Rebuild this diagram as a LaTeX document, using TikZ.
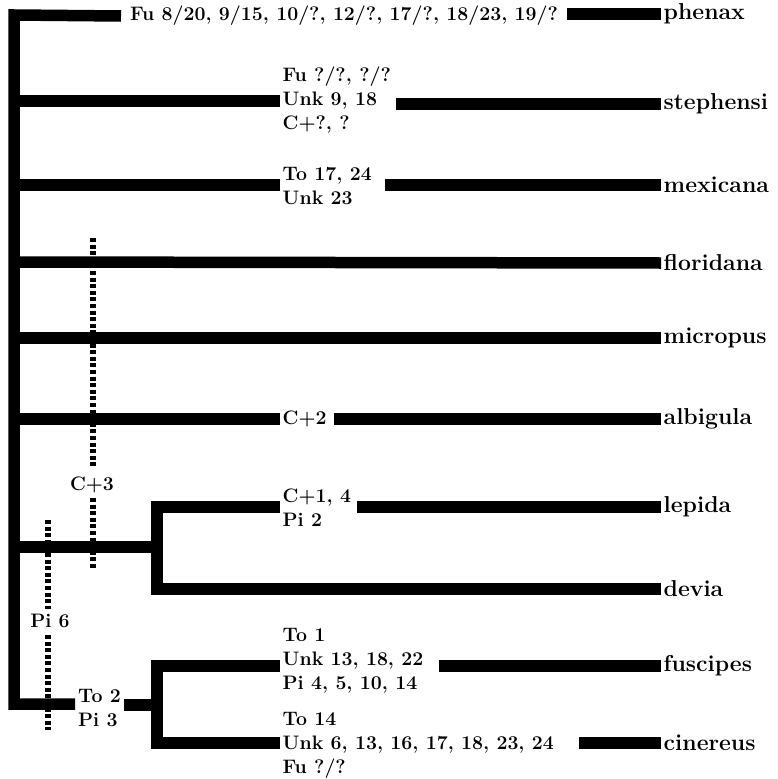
\documentclass[tikz,border=0pt]{standalone}
\tikzset{
  bar/.style={line width=11.5pt, line join=miter, line cap=butt},
  dsh/.style={line width=6.5pt, dash pattern=on 4pt off 2.6pt},
  ann/.style={font=\fontsize{19.5}{24}\selectfont\bfseries, align=left, inner sep=3pt, anchor=west},
  sp/.style={font=\fontsize{23}{24}\selectfont\bfseries, inner sep=2.5pt, anchor=west},
  mk/.style={font=\fontsize{19.5}{24}\selectfont\bfseries, inner sep=1pt}
}
\begin{document}
\begin{tikzpicture}[x=1pt,y=-1pt]
\useasboundingbox (0,0) rectangle (777,779);
% species labels
\node[sp] (lph) at (661,14) {phenax};
\node[sp] (lst) at (661,104) {stephensi};
\node[sp] (lmx) at (661,185) {mexicana};
\node[sp] (lfl) at (661,263) {floridana};
\node[sp] (lmi) at (661,338) {micropus};
\node[sp] (lal) at (661,419) {albigula};
\node[sp] (lle) at (661,507) {lepida};
\node[sp] (lde) at (661,589) {devia};
\node[sp] (lfu) at (661,666) {fuscipes};
\node[sp] (lci) at (661,743) {cinereus};
% annotations
\node[ann, inner xsep=9pt] (tph) at (121,16) {Fu 8/20, 9/15, 10/?, 12/?, 17/?, 18/23, 19/?};
\node[ann] (tst) at (279.5,100) {Fu ?/?, ?/?\\Unk 9, 18\\C+?, ?};
\node[ann] (tmx) at (279.5,186) {To 17, 24\\Unk 23};
\node[ann] (tal) at (279.5,419) {C+2};
\node[ann] (tle) at (279.5,508) {C+1, 4\\Pi 2};
\node[ann] (t2) at (75,708) {To 2\\Pi 3};
\node[ann] (tfu) at (279.5,661) {To 1\\Unk 13, 18, 22\\Pi 4, 5, 10, 14};
\node[ann] (tci) at (279.5,745) {To 14\\Unk 6, 13, 16, 17, 18, 23, 24\\Fu ?/?};
% coordinates of the tree
\coordinate (top) at (14,15);
\coordinate (bot) at (14,704);
\coordinate (nle) at (157,547);
\coordinate (nfu) at (157,705);
% trunk with phenax and bottom branch
\draw[bar] (tph.west) -- (top) -- (bot) -- (t2.west |- bot);
\draw[bar] (tph.east |- lph) -- (lph.west);
% stephensi
\draw[bar] (14,101) -- (tst.west |- 0,101);
\draw[bar, shorten <=2pt] (tst.east |- lst) -- (lst.west);
% mexicana
\draw[bar] (14,185) -- (tmx.west |- lmx);
\draw[bar, shorten <=10pt] (tmx.east |- lmx) -- (lmx.west);
% floridana, micropus
\draw[bar] (14,262) -- (lfl.west);
\draw[bar] (14,338) -- (lmi.west);
% albigula
\draw[bar] (14,419) -- (tal.west |- lal);
\draw[bar, shorten <=4pt] (tal.east |- lal) -- (lal.west);
% lepida / devia
\draw[bar] (14,547) -- (nle);
\draw[bar] (tle.west |- lle) -- (157,507) -- (157,589) -- (lde.west);
\draw[bar, shorten <=3pt] (tle.east |- lle) -- (lle.west);
% fuscipes / cinereus
\draw[bar] (t2.east |- nfu) -- (nfu);
\draw[bar] (tfu.west |- lfu) -- (157,666) -- (157,743) -- (tci.west |- lci);
\draw[bar, shorten <=12pt] (tfu.east |- lfu) -- (lfu.west);
\draw[bar, shorten <=22pt] (tci.east |- lci) -- (lci.west);
% character marks
\node[mk] (c3) at (92,485) {C+3};
\node[mk] (p6) at (50,621) {Pi 6};
\draw[dsh] (93,238) -- (93,468);
\draw[dsh] (93,498) -- (93,568);
\draw[dsh] (48,520) -- (48,609);
\draw[dsh] (48,635) -- (48,730);
\end{tikzpicture}
\end{document}
